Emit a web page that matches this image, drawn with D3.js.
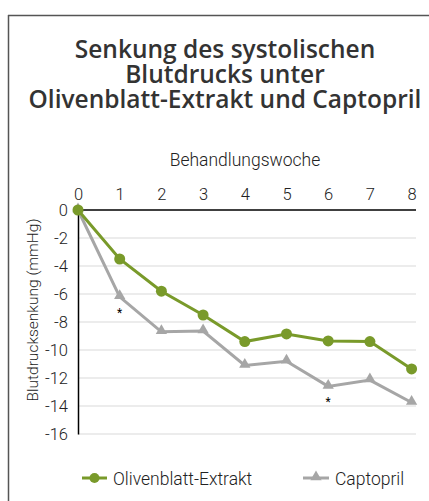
<!DOCTYPE html>
<html>
<head>
<meta charset="utf-8">
<script src="https://cdn.jsdelivr.net/npm/d3@7"></script>
<style>
  body { margin: 0; background: #fff; }
  svg { display: block; }
</style>
</head>
<body>
<svg id="chart"></svg>
<script>
const weeks = [0, 1, 2, 3, 4, 5, 6, 7, 8];
const olive = [0, -3.5, -5.8, -7.5, -9.4, -8.85, -9.35, -9.4, -11.35];
const captopril = [0, -6.2, -8.7, -8.65, -11.1, -10.8, -12.6, -12.15, -13.75];
const yTicks = [0, -2, -4, -6, -8, -10, -12, -14, -16];
const starWeeks = [1, 6];

const width = 429, height = 501;
const margin = { top: 210, right: 16, bottom: 66, left: 78 };

const svg = d3.select("#chart").attr("width", width).attr("height", height);

// frame (only top + left visible)
svg.append("line").attr("x1", 8).attr("x2", width).attr("y1", 15.5).attr("y2", 15.5)
  .attr("stroke", "#555").attr("stroke-width", 1.5);
svg.append("line").attr("x1", 8.5).attr("x2", 8.5).attr("y1", 15).attr("y2", height)
  .attr("stroke", "#555").attr("stroke-width", 1.5);

// title
const titleLines = ["Senkung des systolischen", "Blutdrucks unter", "Olivenblatt-Extrakt und Captopril"];
svg.append("g").selectAll("text").data(titleLines).enter().append("text")
  .attr("x", 225).attr("y", (d, i) => 58 + i * 25)
  .attr("text-anchor", "middle")
  .attr("font-family", "'Open Sans', sans-serif").attr("font-weight", 600)
  .attr("font-size", 24.5).attr("fill", "#333")
  .text(d => d);

const x = d3.scaleLinear().domain([0, 8]).range([margin.left, margin.left + 333.6]);
const y = d3.scaleLinear().domain([0, -16]).range([margin.top, height - margin.bottom - 1]);
const xEnd = width - margin.right + 3;

const font = "Roboto, sans-serif";

// gridlines
svg.append("g").selectAll("line").data(yTicks.filter(d => d !== 0)).enter().append("line")
  .attr("x1", margin.left).attr("x2", xEnd)
  .attr("y1", d => y(d)).attr("y2", d => y(d))
  .attr("stroke", "#d9d9d9").attr("stroke-width", 1);

// x axis on top
const xAxis = svg.append("g").attr("transform", `translate(0,${margin.top})`)
  .call(d3.axisTop(x).tickValues(weeks).tickSize(0).tickPadding(10));
xAxis.select(".domain").remove();
xAxis.append("line").attr("x1", margin.left).attr("x2", xEnd).attr("y1", 0).attr("y2", 0)
  .attr("stroke", "#000").attr("stroke-width", 1.5);
xAxis.selectAll("text").attr("font-family", font).attr("font-weight", 300)
  .attr("font-size", 16.5).attr("fill", "#222");

// y axis
const yAxis = svg.append("g").attr("transform", `translate(${margin.left},0)`)
  .call(d3.axisLeft(y).tickValues(yTicks).tickSize(0).tickPadding(10).tickFormat(d => String(d)));
yAxis.select(".domain").attr("stroke", "#000").attr("stroke-width", 1.5);
yAxis.selectAll("text").attr("font-family", font).attr("font-weight", 300)
  .attr("font-size", 16.5).attr("fill", "#222");

// axis titles
svg.append("text").attr("x", 245).attr("y", 166).attr("text-anchor", "middle")
  .attr("font-family", font).attr("font-weight", 300).attr("font-size", 17.5).attr("fill", "#222")
  .text("Behandlungswoche");
svg.append("text").attr("transform", "translate(38,310) rotate(-90)")
  .attr("text-anchor", "middle")
  .attr("font-family", font).attr("font-weight", 300).attr("font-size", 15.5).attr("fill", "#222")
  .text("Blutdrucksenkung (mmHg)");

const oliveColor = "#799a2a", grayColor = "#a6a6a6";
const line = d3.line().x((d, i) => x(weeks[i])).y(d => y(d));
const tri = d3.symbol().type(d3.symbolTriangle).size(55);

// captopril
svg.append("path").datum(captopril).attr("d", line)
  .attr("fill", "none").attr("stroke", grayColor).attr("stroke-width", 3);
svg.append("g").selectAll("path").data(captopril).enter().append("path")
  .attr("d", tri).attr("transform", (d, i) => `translate(${x(weeks[i])},${y(d) - 1})`)
  .attr("fill", grayColor);

// olive leaf extract
svg.append("path").datum(olive).attr("d", line)
  .attr("fill", "none").attr("stroke", oliveColor).attr("stroke-width", 3);
svg.append("g").selectAll("circle").data(olive).enter().append("circle")
  .attr("cx", (d, i) => x(weeks[i])).attr("cy", d => y(d)).attr("r", 5.5)
  .attr("fill", oliveColor);

// significance markers
svg.append("g").selectAll("text").data(starWeeks).enter().append("text")
  .attr("x", d => x(d)).attr("y", d => y(captopril[weeks.indexOf(d)]) + 20)
  .attr("text-anchor", "middle").attr("font-family", font).attr("font-size", 12).attr("fill", "#000")
  .text("*");

// legend
const legend = svg.append("g").attr("transform", "translate(0,478)");
legend.append("line").attr("x1", 82).attr("x2", 107).attr("stroke", oliveColor).attr("stroke-width", 3);
legend.append("circle").attr("cx", 94.5).attr("cy", 0).attr("r", 5).attr("fill", oliveColor);
legend.append("text").attr("x", 113).attr("y", 6.5)
  .attr("font-family", font).attr("font-weight", 300).attr("font-size", 17.5).attr("fill", "#222")
  .text("Olivenblatt-Extrakt");
legend.append("line").attr("x1", 303).attr("x2", 329).attr("stroke", grayColor).attr("stroke-width", 3);
legend.append("path").attr("d", tri).attr("transform", "translate(316,-1)").attr("fill", grayColor);
legend.append("text").attr("x", 335).attr("y", 6.5)
  .attr("font-family", font).attr("font-weight", 300).attr("font-size", 17.5).attr("fill", "#222")
  .text("Captopril");
</script>
</body>
</html>
